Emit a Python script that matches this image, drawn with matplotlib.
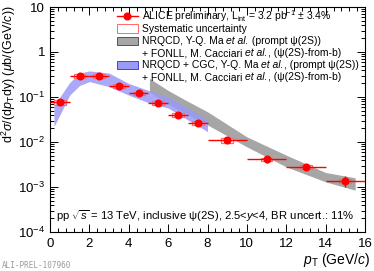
import matplotlib
matplotlib.use('Agg')
import matplotlib.pyplot as plt
import numpy as np
from matplotlib.patches import Rectangle
from matplotlib.lines import Line2D
from matplotlib.ticker import LogLocator, MultipleLocator, FuncFormatter

plt.rcParams['font.family'] = ['Liberation Sans', 'DejaVu Sans']
plt.rcParams['mathtext.fontset'] = 'custom'
plt.rcParams['mathtext.rm'] = 'Liberation Sans'
plt.rcParams['mathtext.it'] = 'Liberation Sans:italic'

RED = '#ff0000'
LIGHTRED = '#ff6a6a'
GRAY = '#a6a6a6'
BLUE = '#9a9af7'
W, H = 374, 271

# ALICE data
pt = [0.5, 1.5, 2.5, 3.5, 4.5, 5.5, 6.5, 7.5, 9, 11, 13, 15]
pt_halfwidth = [0.5, 0.5, 0.5, 0.5, 0.5, 0.5, 0.5, 0.5, 1, 1, 1, 1]
xsec = [0.077, 0.30, 0.30, 0.175, 0.12, 0.074, 0.040, 0.026, 0.011, 0.0041, 0.0028, 0.00136]
stat_rel = [0.06, 0.04, 0.04, 0.05, 0.06, 0.07, 0.08, 0.09, 0.10, 0.16, 0.16, 0.26]
sys_rel = [0.12, 0.10, 0.10, 0.10, 0.10, 0.10, 0.10, 0.10, 0.12, 0.10, 0.10, 0.10]

# NRQCD + CGC (prompt) + FONLL band
cgc_pt = [0.2, 0.5, 1.0, 1.5, 2.0, 3.0, 4.0, 5.0, 6.0, 7.0, 8.0]
cgc_lo = [0.022, 0.04, 0.11, 0.18, 0.22, 0.17, 0.11, 0.075, 0.057, 0.031, 0.017]
cgc_hi = [0.06, 0.10, 0.21, 0.34, 0.38, 0.34, 0.20, 0.14, 0.10, 0.057, 0.031]

# NRQCD (prompt) + FONLL band
nrqcd_pt = [5.05, 6.0, 7.0, 8.0, 10.0, 12.0, 14.0, 15.5]
nrqcd_lo = [0.13, 0.07, 0.04, 0.024, 0.0078, 0.0028, 0.0013, 0.00085]
nrqcd_hi = [0.26, 0.14, 0.08, 0.047, 0.013, 0.0051, 0.0021, 0.0016]

# legend rows: (text, style) pieces
legend_rows = [
    [(r'ALICE preliminary, L$_{\rm int}$ = 3.2 pb$^{-1}$ $\pm$ 3.4%', 'normal')],
    [('Systematic uncertainty', 'normal')],
    [('NRQCD, Y-Q. Ma ', 'normal'), ('et al.', 'italic'), (' (prompt ψ(2S))', 'normal')],
    [('+ FONLL, M. Cacciari ', 'normal'), ('et al.', 'italic'), (', (ψ(2S)-from-b)', 'normal')],
    [('NRQCD + CGC, Y-Q. Ma ', 'normal'), ('et al.', 'italic'), (', (prompt ψ(2S))', 'normal')],
    [('+ FONLL, M. Cacciari ', 'normal'), ('et al.', 'italic'), (', (ψ(2S)-from-b)', 'normal')],
]

fig = plt.figure(figsize=(W / 100, H / 100), dpi=100)
ax = fig.add_axes([50 / W, 1 - 232 / H, 315 / W, 225 / H])

ax.fill_between(nrqcd_pt, nrqcd_lo, nrqcd_hi, color=GRAY, lw=0, zorder=1)
ax.fill_between(cgc_pt, cgc_lo, cgc_hi, color=BLUE, lw=0, alpha=0.85, zorder=2)

xsec_a = np.array(xsec)
for x, y, s in zip(pt, xsec, sys_rel):
    ax.add_patch(Rectangle((x - 0.3, y * (1 - s)), 0.6, y * 2 * s,
                           fill=False, edgecolor=LIGHTRED, lw=0.9, zorder=3))
ax.errorbar(pt, xsec, xerr=pt_halfwidth, yerr=xsec_a * np.array(stat_rel),
            fmt='o', color=RED, ecolor=RED, elinewidth=1.0, ms=4.8,
            capsize=0, zorder=4)

ax.set_yscale('log')
ax.set_xlim(0, 16)
ax.set_ylim(1e-4, 10)
ax.xaxis.set_major_locator(MultipleLocator(2))
ax.xaxis.set_minor_locator(MultipleLocator(0.4))
ax.yaxis.set_major_locator(LogLocator(base=10))
ax.yaxis.set_minor_locator(LogLocator(base=10, subs=np.arange(2, 10)))
ax.yaxis.set_major_formatter(FuncFormatter(
    lambda v, p: {10: '10', 1: '1'}.get(round(v, 6), r'$10^{%d}$' % round(np.log10(v)))))
ax.tick_params(which='both', direction='in', top=True, right=True,
               labelsize=9.5, width=0.7)
ax.tick_params(which='major', length=5.5)
ax.tick_params(which='minor', length=2.7)
ax.tick_params(axis='x', pad=4)
ax.tick_params(axis='y', pad=3.5)
for sp in ax.spines.values():
    sp.set_linewidth(0.8)

fig.text(370 / W, 1 - 260 / H, r'$p_{\rm T}$ (GeV/$c$)', fontsize=10,
         ha='right', va='center')
fig.text(9 / W, 1 - 5 / H, r'd$^2\sigma$/(d$p_{\rm T}$dy) ($\mu$b/(GeV/$c$))',
         fontsize=9, rotation=90, ha='center', va='top')


# legend, placed by hand in pixel positions
def fx(px):
    return px / W


def fy(py):
    return 1 - py / H


renderer = fig.canvas.get_renderer()
rows = [16, 28.5, 41, 53, 65, 77]
for py, parts in zip(rows, legend_rows):
    if len(parts) == 1:
        fig.text(fx(142), fy(py), parts[0][0], fontsize=7.5, va='center', ha='left')
        continue
    x = fx(142)
    for s, style in parts:
        t = fig.text(x, fy(py + 3), s, fontsize=7.5, fontstyle=style,
                     va='baseline', ha='left')
        x += t.get_window_extent(renderer).width / W
fig.add_artist(Line2D([fx(117), fx(138)], [fy(rows[0])] * 2, color=RED, lw=1.0,
                      transform=fig.transFigure))
fig.add_artist(Line2D([fx(127.5)], [fy(rows[0])], color=RED, marker='o', ms=4.8,
                      transform=fig.transFigure))
for py, fc, ec in [(rows[1], 'white', LIGHTRED), (rows[2], GRAY, '#555555'),
                   (rows[4], BLUE, '#4444dd')]:
    fig.add_artist(Rectangle((fx(117), fy(py + 4)), 21 / W, 8 / H,
                             facecolor=fc, edgecolor=ec, lw=0.7,
                             transform=fig.transFigure))

ax.text(0.02, 0.055, r'pp $\sqrt{s}$ = 13 TeV, inclusive ψ(2S), 2.5<$y$<4, BR uncert.: 11%',
        transform=ax.transAxes, fontsize=8.1)
fig.text(0.005, 0.01, 'ALI-PREL-107960', fontsize=5.5, color='#999999',
         family='DejaVu Sans Mono')

fig.savefig('out.png', dpi=100)
